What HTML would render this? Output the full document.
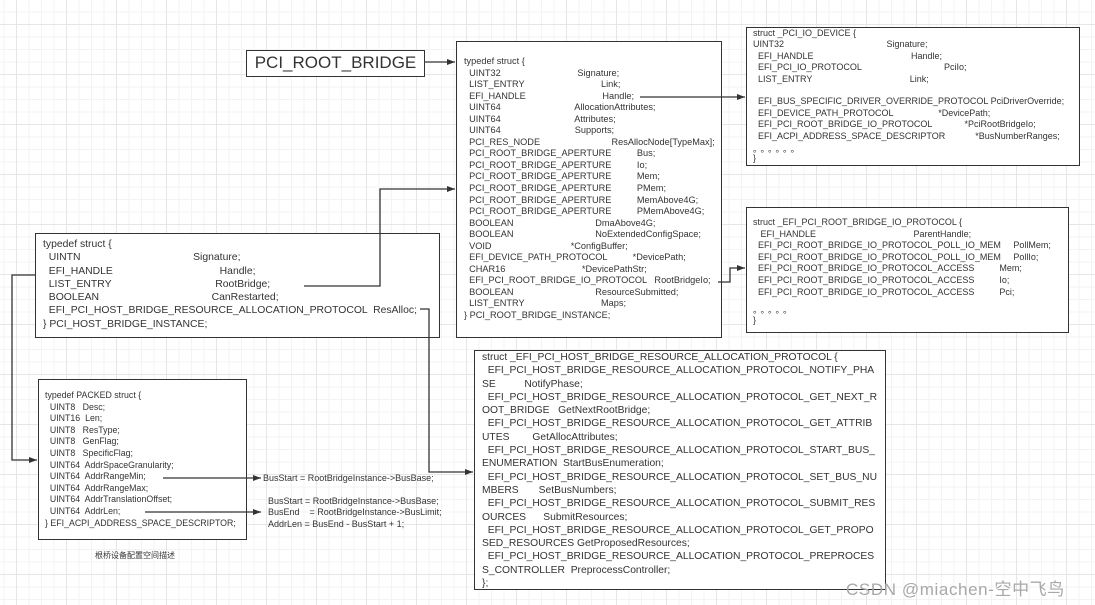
<!DOCTYPE html>
<html><head><meta charset="utf-8"><style>
html,body{margin:0;padding:0}
body{width:1095px;height:605px;position:relative;overflow:hidden;background:#fff;
background-image:linear-gradient(#e6e6e6 1px,transparent 1px),linear-gradient(90deg,#e6e6e6 1px,transparent 1px),linear-gradient(#f3f3f3 1px,transparent 1px),linear-gradient(90deg,#f3f3f3 1px,transparent 1px);
background-size:50px 50px,50px 50px,12.5px 12.5px,12.5px 12.5px;background-position:0 24px,16px 0,0 24px,16px 0;
font-family:"Liberation Sans","Noto Sans CJK SC",sans-serif;color:#333}
.b{position:absolute;border:1.5px solid #333;background:#fff;box-sizing:border-box}
.t{position:absolute;white-space:pre;margin:0;font-family:"Liberation Sans","Noto Sans CJK SC",sans-serif;color:#333}
svg{position:absolute;left:0;top:0}
</style></head><body>
<div class="b" style="left:246px;top:50px;width:179px;height:27px;font-size:17px;text-align:center;line-height:24px">PCI_ROOT_BRIDGE</div>

<div class="b" style="left:456px;top:41px;width:266px;height:297px"></div>
<pre class="t" style="left:464px;top:56px;font-size:9.2px;line-height:11.55px">typedef struct {
  UINT32                              Signature;
  LIST_ENTRY                              Link;
  EFI_HANDLE                              Handle;
  UINT64                             AllocationAttributes;
  UINT64                             Attributes;
  UINT64                             Supports;
  PCI_RES_NODE                            ResAllocNode[TypeMax];
  PCI_ROOT_BRIDGE_APERTURE          Bus;
  PCI_ROOT_BRIDGE_APERTURE          Io;
  PCI_ROOT_BRIDGE_APERTURE          Mem;
  PCI_ROOT_BRIDGE_APERTURE          PMem;
  PCI_ROOT_BRIDGE_APERTURE          MemAbove4G;
  PCI_ROOT_BRIDGE_APERTURE          PMemAbove4G;
  BOOLEAN                                DmaAbove4G;
  BOOLEAN                                NoExtendedConfigSpace;
  VOID                               *ConfigBuffer;
  EFI_DEVICE_PATH_PROTOCOL          *DevicePath;
  CHAR16                              *DevicePathStr;
  EFI_PCI_ROOT_BRIDGE_IO_PROTOCOL   RootBridgeIo;
  BOOLEAN                                ResourceSubmitted;
  LIST_ENTRY                              Maps;
} PCI_ROOT_BRIDGE_INSTANCE;</pre>

<div class="b" style="left:746px;top:27px;width:334px;height:139px"></div>
<pre class="t" style="left:753px;top:28px;font-size:9px;line-height:11.4px">struct _PCI_IO_DEVICE {
UINT32                                         Signature;
  EFI_HANDLE                                       Handle;
  EFI_PCI_IO_PROTOCOL                                 PciIo;
  LIST_ENTRY                                       Link;

  EFI_BUS_SPECIFIC_DRIVER_OVERRIDE_PROTOCOL PciDriverOverride;
  EFI_DEVICE_PATH_PROTOCOL                  *DevicePath;
  EFI_PCI_ROOT_BRIDGE_IO_PROTOCOL             *PciRootBridgeIo;
  EFI_ACPI_ADDRESS_SPACE_DESCRIPTOR            *BusNumberRanges;
</pre>
<div class="t" style="left:753px;top:145px;font-size:9px;line-height:9px;letter-spacing:3px">。。。。。。<br>}</div>

<div class="b" style="left:746px;top:207px;width:323px;height:126px"></div>
<pre class="t" style="left:753px;top:217px;font-size:9px;line-height:11.6px">struct _EFI_PCI_ROOT_BRIDGE_IO_PROTOCOL {
   EFI_HANDLE                                       ParentHandle;
  EFI_PCI_ROOT_BRIDGE_IO_PROTOCOL_POLL_IO_MEM     PollMem;
  EFI_PCI_ROOT_BRIDGE_IO_PROTOCOL_POLL_IO_MEM     PollIo;
  EFI_PCI_ROOT_BRIDGE_IO_PROTOCOL_ACCESS          Mem;
  EFI_PCI_ROOT_BRIDGE_IO_PROTOCOL_ACCESS          Io;
  EFI_PCI_ROOT_BRIDGE_IO_PROTOCOL_ACCESS          Pci;
</pre>
<div class="t" style="left:753px;top:305px;font-size:9px;line-height:10px;letter-spacing:3px">。。。。。<br>}</div>

<div class="b" style="left:35px;top:233px;width:405px;height:105px"></div>
<pre class="t" style="left:43px;top:238px;font-size:10.4px;line-height:13.3px">typedef struct {
  UINTN                                       Signature;
  EFI_HANDLE                                     Handle;
  LIST_ENTRY                                    RootBridge;
  BOOLEAN                                       CanRestarted;
  EFI_PCI_HOST_BRIDGE_RESOURCE_ALLOCATION_PROTOCOL  ResAlloc;
} PCI_HOST_BRIDGE_INSTANCE;</pre>

<div class="b" style="left:38px;top:379px;width:209px;height:161px"></div>
<pre class="t" style="left:45px;top:390px;font-size:8.8px;line-height:11.6px">typedef PACKED struct {
  UINT8   Desc;
  UINT16  Len;
  UINT8   ResType;
  UINT8   GenFlag;
  UINT8   SpecificFlag;
  UINT64  AddrSpaceGranularity;
  UINT64  AddrRangeMin;
  UINT64  AddrRangeMax;
  UINT64  AddrTranslationOffset;
  UINT64  AddrLen;
} EFI_ACPI_ADDRESS_SPACE_DESCRIPTOR;</pre>
<div class="t" style="left:95px;top:550px;font-size:8px">根桥设备配置空间描述</div>

<pre class="t" style="left:263px;top:473px;font-size:9px;line-height:11.3px">BusStart = RootBridgeInstance->BusBase;</pre>
<pre class="t" style="left:268px;top:496px;font-size:9px;line-height:11.3px">BusStart = RootBridgeInstance->BusBase;
BusEnd    = RootBridgeInstance->BusLimit;
AddrLen = BusEnd - BusStart + 1;</pre>

<div class="b" style="left:474px;top:350px;width:412px;height:240px"></div>
<pre class="t" style="left:482px;top:351px;font-size:10.3px;line-height:13.3px">struct _EFI_PCI_HOST_BRIDGE_RESOURCE_ALLOCATION_PROTOCOL {
  EFI_PCI_HOST_BRIDGE_RESOURCE_ALLOCATION_PROTOCOL_NOTIFY_PHA
SE          NotifyPhase;
  EFI_PCI_HOST_BRIDGE_RESOURCE_ALLOCATION_PROTOCOL_GET_NEXT_R
OOT_BRIDGE   GetNextRootBridge;
  EFI_PCI_HOST_BRIDGE_RESOURCE_ALLOCATION_PROTOCOL_GET_ATTRIB
UTES        GetAllocAttributes;
  EFI_PCI_HOST_BRIDGE_RESOURCE_ALLOCATION_PROTOCOL_START_BUS_
ENUMERATION  StartBusEnumeration;
  EFI_PCI_HOST_BRIDGE_RESOURCE_ALLOCATION_PROTOCOL_SET_BUS_NU
MBERS       SetBusNumbers;
  EFI_PCI_HOST_BRIDGE_RESOURCE_ALLOCATION_PROTOCOL_SUBMIT_RES
OURCES      SubmitResources;
  EFI_PCI_HOST_BRIDGE_RESOURCE_ALLOCATION_PROTOCOL_GET_PROPO
SED_RESOURCES GetProposedResources;
  EFI_PCI_HOST_BRIDGE_RESOURCE_ALLOCATION_PROTOCOL_PREPROCES
S_CONTROLLER  PreprocessController;
};</pre>

<div class="t" style="left:846px;top:575px;font-size:17px;color:#a8a8a8;letter-spacing:0.6px">CSDN @miachen-空中飞鸟</div>

<svg width="1095" height="605" fill="none" stroke="#333" stroke-width="1.3">
<defs><marker id="a" markerWidth="8" markerHeight="6" refX="8" refY="3" orient="auto" markerUnits="userSpaceOnUse"><path d="M0,0L8,3L0,6z" fill="#333" stroke="none"/></marker></defs>
<path d="M425,62H455" marker-end="url(#a)"/>
<path d="M640,97H745" marker-end="url(#a)"/>
<path d="M718,282H730V268H745" marker-end="url(#a)"/>
<path d="M304,286H380V189H455" marker-end="url(#a)"/>
<path d="M35,275H12V460H37" marker-end="url(#a)"/>
<path d="M420,309H429V472H473" marker-end="url(#a)"/>
<path d="M163,478H261" marker-end="url(#a)"/>
<path d="M145,512H261" marker-end="url(#a)"/>
</svg>
</body></html>
